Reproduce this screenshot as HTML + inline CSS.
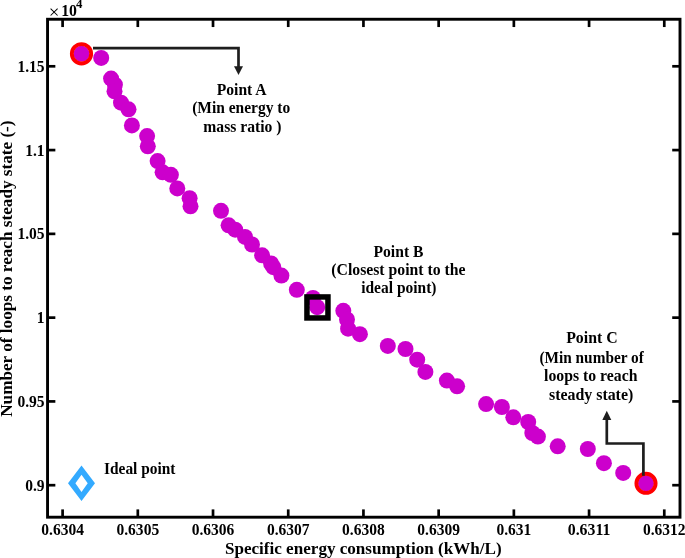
<!DOCTYPE html>
<html><head><meta charset="utf-8"><title>Pareto front</title><style>
html,body{margin:0;padding:0;background:#fff;overflow:hidden;}
svg{display:block;will-change:transform;}
text{font-family:"Liberation Serif",serif;}
</style></head><body>
<svg width="685" height="558" viewBox="0 0 685 558">
<rect width="685" height="558" fill="#fff"/>
<g fill="#cc00cc">
<circle cx="81.5" cy="53.8" r="8.0"/>
<circle cx="101.2" cy="57.9" r="8.0"/>
<circle cx="111.1" cy="78.6" r="8.0"/>
<circle cx="114.9" cy="84.7" r="8.0"/>
<circle cx="114.5" cy="91.3" r="8.0"/>
<circle cx="121.0" cy="102.7" r="8.0"/>
<circle cx="128.5" cy="109.3" r="8.0"/>
<circle cx="131.9" cy="125.4" r="8.0"/>
<circle cx="147.1" cy="136.1" r="8.0"/>
<circle cx="147.8" cy="146.3" r="8.0"/>
<circle cx="157.6" cy="161.1" r="8.0"/>
<circle cx="162.6" cy="172.3" r="8.0"/>
<circle cx="170.9" cy="174.8" r="8.0"/>
<circle cx="177.3" cy="188.4" r="8.0"/>
<circle cx="189.6" cy="198.2" r="8.0"/>
<circle cx="190.5" cy="206.3" r="8.0"/>
<circle cx="221.0" cy="210.8" r="8.0"/>
<circle cx="228.6" cy="225.3" r="8.0"/>
<circle cx="235.2" cy="229.7" r="8.0"/>
<circle cx="245.0" cy="236.9" r="8.0"/>
<circle cx="252.0" cy="244.5" r="8.0"/>
<circle cx="262.1" cy="255.3" r="8.0"/>
<circle cx="271.1" cy="263.5" r="8.0"/>
<circle cx="273.3" cy="267.2" r="8.0"/>
<circle cx="281.4" cy="275.6" r="8.0"/>
<circle cx="296.8" cy="289.8" r="8.0"/>
<circle cx="313.0" cy="297.9" r="8.0"/>
<circle cx="317.2" cy="307.2" r="8.0"/>
<circle cx="343.3" cy="310.8" r="8.0"/>
<circle cx="347.0" cy="319.5" r="8.0"/>
<circle cx="348.1" cy="328.7" r="8.0"/>
<circle cx="359.9" cy="334.2" r="8.0"/>
<circle cx="387.8" cy="345.9" r="8.0"/>
<circle cx="405.5" cy="349.0" r="8.0"/>
<circle cx="417.2" cy="359.7" r="8.0"/>
<circle cx="425.4" cy="371.9" r="8.0"/>
<circle cx="446.9" cy="380.6" r="8.0"/>
<circle cx="457.1" cy="386.3" r="8.0"/>
<circle cx="486.1" cy="404.1" r="8.0"/>
<circle cx="501.9" cy="407.0" r="8.0"/>
<circle cx="513.3" cy="417.3" r="8.0"/>
<circle cx="528.2" cy="422.0" r="8.0"/>
<circle cx="532.3" cy="433.0" r="8.0"/>
<circle cx="537.9" cy="436.6" r="8.0"/>
<circle cx="557.7" cy="446.3" r="8.0"/>
<circle cx="587.8" cy="449.0" r="8.0"/>
<circle cx="603.9" cy="463.2" r="8.0"/>
<circle cx="623.2" cy="472.9" r="8.0"/>
<circle cx="646.0" cy="483.3" r="8.0"/>
</g>
<g fill="none" stroke="#ff0000" stroke-width="3.9">
<circle cx="81.5" cy="53.8" r="9.65"/>
<circle cx="646.0" cy="483.3" r="9.6"/>
</g>
<rect x="306.95" y="296.95" width="21.0" height="21.0" fill="none" stroke="#000" stroke-width="5.5"/>
<g fill="none" stroke="#1e1e1e" stroke-width="2.7">
<polyline points="93,48.2 238.5,48.2 238.5,67"/>
<polyline points="643.4,475.8 643.4,443.5 606.8,443.5 606.8,419"/>
</g>
<g fill="#1e1e1e">
<polygon points="234,66.2 243,66.2 238.5,74.9"/>
<polygon points="602.3,419.9 611.3,419.9 606.8,410.8"/>
</g>
<path d="M81.5,465.5 L95,483.3 L81.5,501 L68,483.3 Z M81.5,474.8 L75.4,483.3 L81.5,492 L87.7,483.3 Z" fill="#33aaff" fill-rule="evenodd"/>
<rect x="47.55" y="19.25" width="632.45" height="497.95" fill="none" stroke="#000" stroke-width="2.9"/>
<g stroke="#000" stroke-width="2.7">
<line x1="62.60" y1="517.20" x2="62.60" y2="509.40"/>
<line x1="62.60" y1="19.25" x2="62.60" y2="27.05"/>
<line x1="137.81" y1="517.20" x2="137.81" y2="509.40"/>
<line x1="137.81" y1="19.25" x2="137.81" y2="27.05"/>
<line x1="213.02" y1="517.20" x2="213.02" y2="509.40"/>
<line x1="213.02" y1="19.25" x2="213.02" y2="27.05"/>
<line x1="288.23" y1="517.20" x2="288.23" y2="509.40"/>
<line x1="288.23" y1="19.25" x2="288.23" y2="27.05"/>
<line x1="363.44" y1="517.20" x2="363.44" y2="509.40"/>
<line x1="363.44" y1="19.25" x2="363.44" y2="27.05"/>
<line x1="438.65" y1="517.20" x2="438.65" y2="509.40"/>
<line x1="438.65" y1="19.25" x2="438.65" y2="27.05"/>
<line x1="513.86" y1="517.20" x2="513.86" y2="509.40"/>
<line x1="513.86" y1="19.25" x2="513.86" y2="27.05"/>
<line x1="589.07" y1="517.20" x2="589.07" y2="509.40"/>
<line x1="589.07" y1="19.25" x2="589.07" y2="27.05"/>
<line x1="664.28" y1="517.20" x2="664.28" y2="509.40"/>
<line x1="664.28" y1="19.25" x2="664.28" y2="27.05"/>
<line x1="47.55" y1="485.20" x2="55.35" y2="485.20"/>
<line x1="680.00" y1="485.20" x2="672.20" y2="485.20"/>
<line x1="47.55" y1="401.42" x2="55.35" y2="401.42"/>
<line x1="680.00" y1="401.42" x2="672.20" y2="401.42"/>
<line x1="47.55" y1="317.64" x2="55.35" y2="317.64"/>
<line x1="680.00" y1="317.64" x2="672.20" y2="317.64"/>
<line x1="47.55" y1="233.86" x2="55.35" y2="233.86"/>
<line x1="680.00" y1="233.86" x2="672.20" y2="233.86"/>
<line x1="47.55" y1="150.08" x2="55.35" y2="150.08"/>
<line x1="680.00" y1="150.08" x2="672.20" y2="150.08"/>
<line x1="47.55" y1="66.30" x2="55.35" y2="66.30"/>
<line x1="680.00" y1="66.30" x2="672.20" y2="66.30"/>
</g>
<g font-weight="bold" font-size="16" text-anchor="middle" fill="#000">
<text x="62.60" y="535.4" textLength="42.68" lengthAdjust="spacingAndGlyphs">0.6304</text>
<text x="137.81" y="535.4" textLength="42.68" lengthAdjust="spacingAndGlyphs">0.6305</text>
<text x="213.02" y="535.4" textLength="42.68" lengthAdjust="spacingAndGlyphs">0.6306</text>
<text x="288.23" y="535.4" textLength="42.68" lengthAdjust="spacingAndGlyphs">0.6307</text>
<text x="363.44" y="535.4" textLength="42.68" lengthAdjust="spacingAndGlyphs">0.6308</text>
<text x="438.65" y="535.4" textLength="42.68" lengthAdjust="spacingAndGlyphs">0.6309</text>
<text x="513.86" y="535.4" textLength="34.92" lengthAdjust="spacingAndGlyphs">0.631</text>
<text x="589.07" y="535.4" textLength="42.68" lengthAdjust="spacingAndGlyphs">0.6311</text>
<text x="664.28" y="535.4" textLength="42.68" lengthAdjust="spacingAndGlyphs">0.6312</text>
</g>
<g font-weight="bold" font-size="16" text-anchor="end" fill="#000">
<text x="44.6" y="490.80" textLength="19.40" lengthAdjust="spacingAndGlyphs">0.9</text>
<text x="44.6" y="407.02" textLength="27.16" lengthAdjust="spacingAndGlyphs">0.95</text>
<text x="44.6" y="323.24" textLength="7.76" lengthAdjust="spacingAndGlyphs">1</text>
<text x="44.6" y="239.46" textLength="27.16" lengthAdjust="spacingAndGlyphs">1.05</text>
<text x="44.6" y="155.68" textLength="19.40" lengthAdjust="spacingAndGlyphs">1.1</text>
<text x="44.6" y="71.90" textLength="27.16" lengthAdjust="spacingAndGlyphs">1.15</text>
</g>
<g stroke="#000" stroke-width="1.05" stroke-linecap="butt"><line x1="50.6" y1="8.6" x2="57.6" y2="15.5"/><line x1="57.6" y1="8.6" x2="50.6" y2="15.5"/></g>
<text x="61.2" y="16.15" font-size="15.8" font-weight="bold" fill="#000">10</text>
<text x="76.0" y="7.6" font-size="12.8" font-weight="bold" fill="#000">4</text>
<text x="224.91" y="554.1" font-size="17.2" font-weight="bold" fill="#000" textLength="276.75" lengthAdjust="spacingAndGlyphs">Specific energy consumption (kWh/L)</text>
<text transform="translate(12.1,416.80) rotate(-90)" x="0" y="0" font-size="17.2" font-weight="bold" fill="#000" textLength="296.36" lengthAdjust="spacingAndGlyphs">Number of loops to reach steady state (-)</text>
<g font-size="16" font-weight="bold" fill="#000">
<text x="216.72" y="94.75" textLength="49.90" lengthAdjust="spacingAndGlyphs">Point A</text>
<text x="192.13" y="113.20" textLength="98.07" lengthAdjust="spacingAndGlyphs">(Min energy to</text>
<text x="203.30" y="132.00" textLength="78.16" lengthAdjust="spacingAndGlyphs">mass ratio )</text>
<text x="373.52" y="256.70" textLength="49.90" lengthAdjust="spacingAndGlyphs">Point B</text>
<text x="331.32" y="275.00" textLength="134.11" lengthAdjust="spacingAndGlyphs">(Closest point to the</text>
<text x="361.23" y="293.40" textLength="75.24" lengthAdjust="spacingAndGlyphs">ideal point)</text>
<text x="566.21" y="343.35" textLength="51.38" lengthAdjust="spacingAndGlyphs">Point C</text>
<text x="539.44" y="362.50" textLength="104.40" lengthAdjust="spacingAndGlyphs">(Min number of</text>
<text x="544.12" y="381.00" textLength="93.30" lengthAdjust="spacingAndGlyphs">loops to reach</text>
<text x="549.01" y="399.90" textLength="84.26" lengthAdjust="spacingAndGlyphs">steady state)</text>
<text x="104.04" y="474.40" textLength="71.40" lengthAdjust="spacingAndGlyphs">Ideal point</text>
</g>
</svg>
</body></html>
